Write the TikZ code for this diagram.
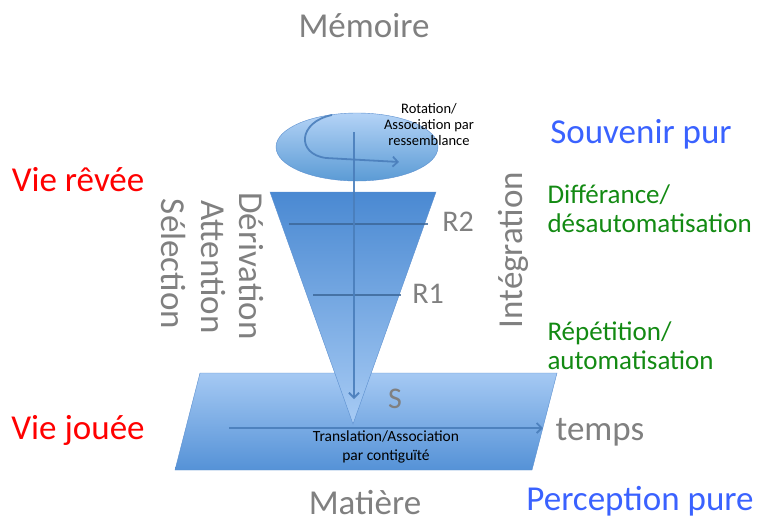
\documentclass[tikz,border=0pt]{standalone}
\usepackage{fontspec}
\setmainfont{Carlito}
\usetikzlibrary{positioning,arrows.meta,shapes.geometric}
\definecolor{txtgray}{HTML}{808080}
\definecolor{txtblue}{HTML}{3A62FF}
\definecolor{txtgreen}{HTML}{138A13}
\definecolor{linkblue}{HTML}{4A7EBB}
\definecolor{edgeblue}{HTML}{5B8FCF}
\definecolor{memtop}{HTML}{B4D3F6}
\definecolor{membot}{HTML}{5B9BD5}
\definecolor{conetop}{HTML}{4A89D2}
\definecolor{conebot}{HTML}{A7CBF4}
\definecolor{planetop}{HTML}{A5C9F3}
\definecolor{planebot}{HTML}{5592D7}
\tikzset{
  flowarrow/.style={-{Straight Barb[length=5pt, width=10pt]}, line width=1.8pt, draw=linkblue, opacity=0.9},
  levelline/.style={line width=2pt, draw=linkblue!80!black, opacity=0.8},
  memshape/.style={draw=edgeblue, top color=memtop, bottom color=membot},
  coneshape/.style={draw=edgeblue, top color=conetop, bottom color=conebot},
  planeshape/.style={draw=edgeblue, top color=planetop, bottom color=planebot},
  graytxt/.style={text=txtgray, font=\fontsize{35}{40}\selectfont},
  bluetxt/.style={text=txtblue, font=\fontsize{35}{40}\selectfont},
  redtxt/.style={text=red, font=\fontsize{35}{40}\selectfont},
  greentxt/.style={text=txtgreen, font=\fontsize{27}{29}\selectfont, align=left, anchor=west},
  levellabel/.style={text=txtgray, font=\fontsize{30}{34}\selectfont},
  smalltxt/.style={text=black, align=center, inner sep=0pt}
}
\begin{document}
\begin{tikzpicture}[x=1pt, y=-1pt]
  \useasboundingbox (0,0) rectangle (764,523);
  % plan des actions (matiere)
  \coordinate (ptl) at (200,373);
  \coordinate (ptr) at (557,373);
  \coordinate (pbr) at (532,470);
  \coordinate (pbl) at (175,470);
  \shade[planeshape] (ptl) -- (ptr) -- (pbr) -- (pbl) -- cycle;
  % cone de la memoire
  \coordinate (ctl) at (270,192);
  \coordinate (ctr) at (436,192);
  \coordinate (apex) at (353,424);
  \shade[coneshape] (ctl) -- (ctr) -- (apex) -- cycle;
  \coordinate (r2a) at (289,224);
  \coordinate (r2b) at (428,224);
  \coordinate (r1a) at (313,295);
  \coordinate (r1b) at (401,295);
  \draw[levelline] (r2a) -- (r2b);
  \draw[levelline] (r1a) -- (r1b);
  \node[levellabel] (r2) at (458,222) {R2};
  \node[levellabel] (r1) at (428,294) {R1};
  \node[levellabel] (s) at (395,399) {S};
  % souvenir pur
  \node[ellipse, memshape, minimum width=162pt, minimum height=68pt] (memo) at (357,147) {};
  \coordinate (rotstart) at (332,115);
  \coordinate (rotend) at (399,162);
  \draw[flowarrow] (rotstart) .. controls (298,122) and (296,154) .. (326,158) -- (rotend);
  \coordinate (downstart) at (354,132);
  \coordinate (downend) at (354,399);
  \draw[flowarrow] (downstart) -- (downend);
  \coordinate (timestart) at (229,428);
  \coordinate (timeend) at (543,428);
  \draw[flowarrow] (timestart) -- (timeend);
  \node[smalltxt, font=\fontsize{14.5}{16}\selectfont] (rotlabel) at (429,125) {Rotation/\\Association par\\ressemblance};
  \node[smalltxt, font=\fontsize{15.5}{19}\selectfont] (translabel) at (386,447) {Translation/Association\\par contiguïté};
  % textes
  \node[graytxt] (memoire) at (364,26) {Mémoire};
  \node[bluetxt] (souvenir) at (641,134) {Souvenir pur};
  \node[redtxt] (reve) at (78,180) {Vie rêvée};
  \node[redtxt] (joue) at (78,430) {Vie jouée};
  \node[greentxt] (differance) at (544,209) {Différance/\\désautomatisation};
  \node[greentxt] (repetition) at (544,346) {Répétition/\\automatisation};
  \node[graytxt, rotate=90] (integration) at (513,250) {Intégration};
  \node[graytxt, rotate=-90] (derivation) at (251,266) {Dérivation};
  \node[graytxt, rotate=-90] (attention) at (213,267) {Attention};
  \node[graytxt, rotate=-90] (selection) at (174,264) {Sélection};
  \node[graytxt] (temps) at (600,432) {temps};
  \node[graytxt, inner sep=0pt] (matiere) at (365,503) {Matière};
  \node[bluetxt, inner sep=0pt] (perception) at (640,501) {Perception pure};
\end{tikzpicture}
\end{document}
